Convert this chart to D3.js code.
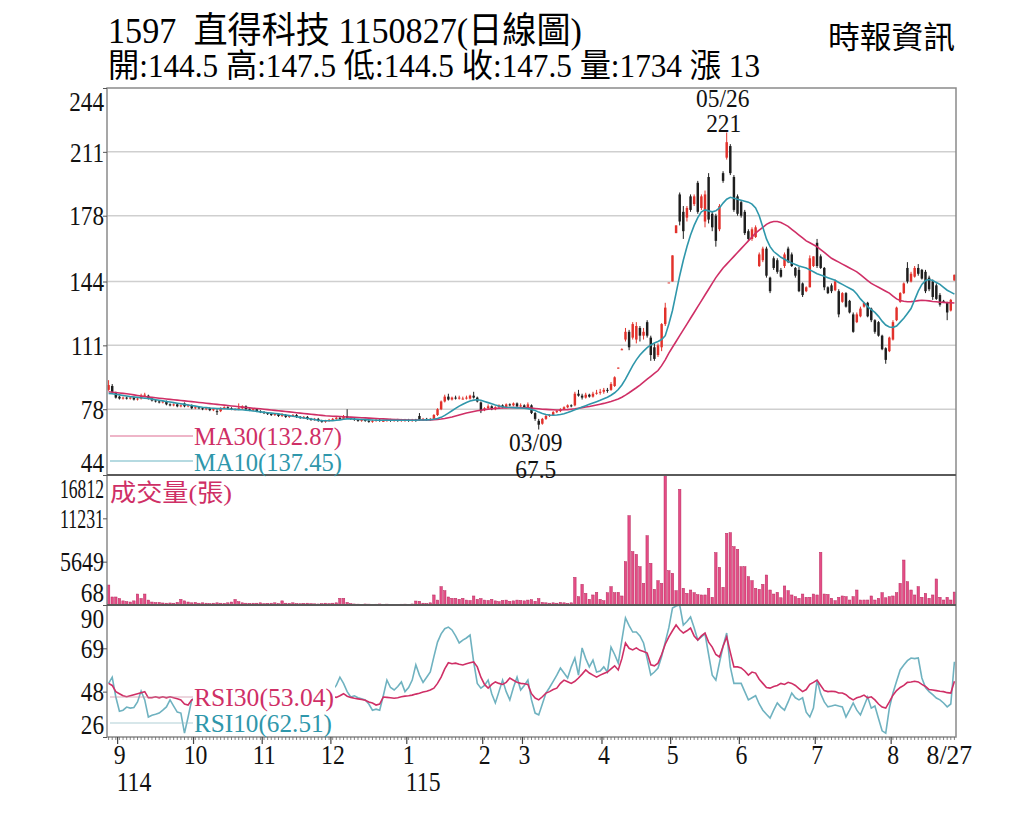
<!DOCTYPE html>
<html>
<head>
<meta charset="utf-8">
<script src="https://cdn.jsdelivr.net/npm/d3@7"></script>
<style>
  body { margin: 0; background: #fff; }
  svg { display: block; }
  text { font-family: "Liberation Serif", "Noto Sans CJK TC", serif; white-space: pre; }
</style>
</head>
<body>
<svg id="chart" width="1024" height="819"></svg>
<script>
// Trading days per month, 114/08 (partial) .. 115/08/27
const monthLabels = ["", "9", "10", "11", "12", "1", "2", "3", "4", "5", "6", "7", "8"];
const monthDays = [3, 21, 19, 19, 21, 21, 11, 22, 19, 19, 21, 21, 18];
const yearLabels = [{ month: 1, text: "114" }, { month: 5, text: "115" }];
const lastDateLabel = "8/27";

const openP = [
  88, 90, 86.5, 84.5, 83.5, 84, 83.5, 84, 83, 83.5, 85, 85, 83.5, 82.5, 82, 81.5, 82, 80.5, 80, 80.5, 79.5,
  81, 79.5, 80, 78.5, 79, 78.5, 78, 78.5, 77.5, 77, 77, 78.5, 79, 78.5, 78, 78, 78.5, 79.5, 78, 77.5,
  78, 77, 76.5, 76, 75.5, 75, 75.5, 74.5, 75, 74, 74.5, 75, 74, 73.5, 74, 73, 72.5, 73, 72, 71.5,
  72, 72.5, 73, 73.5, 73, 74.5, 73.5, 73, 72.5, 72, 72.5, 72, 71.5, 72, 72.5, 72, 72, 72.5, 72, 72.5, 72,
  72, 72.5, 72, 72.5, 74.5, 72.5, 73, 72.5, 73, 75, 78, 82, 84.5, 83, 84, 84, 83.5, 84, 83.5, 85, 84,
  81.5, 77.5, 78.5, 79.5, 78, 79, 80, 79, 80.5, 80, 81,
  79.5, 80, 79, 80, 76, 72, 70.5, 73, 74.5, 75, 76.5, 77, 78, 79, 80, 80, 86, 85, 84, 85.5, 84.5, 86,
  86.5, 87, 88, 88, 90, 99, 109, 114, 118, 115, 114, 120, 116, 123, 115, 110, 106, 110, 122,
  143.5, 144, 169, 189, 180, 177, 188, 184, 195, 182, 175, 198, 179, 178, 171, 200, 208, 214, 198,
  188, 185, 180, 170, 166, 167, 152, 155, 161, 146, 156, 155, 150, 152, 161, 158, 151, 150, 143, 139, 141,
  152, 164, 157, 151, 141, 142, 139.5, 139, 133.5, 138, 134, 127, 123, 126, 131, 133, 130, 124, 123, 116, 109.5,
  108, 114, 124, 133.5, 138, 151, 144, 146.5, 151, 150, 149, 146, 144, 142, 137, 134, 133, 129, 144.5
];
const highP = [
  93, 91, 87, 85, 84.5, 84.5, 84.5, 84.5, 84, 86, 86.5, 85.5, 84, 83, 82.5, 82.5, 82.5, 81, 81, 81, 80.5,
  81.5, 80.5, 80.5, 79.5, 79.5, 79, 79, 79, 78.5, 78, 79, 79.5, 79.5, 79, 78.5, 81, 80, 80, 78.5, 78.5,
  78.5, 77.5, 77, 76.5, 76, 76, 76, 76, 75.5, 75, 75.5, 75.5, 74.5, 74.5, 74.5, 73.5, 73.5, 73.5, 72.5, 72.5,
  73, 73.5, 74, 74, 75, 78, 74, 73.5, 73, 73, 73, 72.5, 72.5, 73, 73, 72.5, 73, 73, 73, 73, 73,
  73, 73, 73, 73, 76, 73.5, 73.5, 73.5, 75.5, 78.5, 82.5, 85.5, 86, 84.5, 85, 85, 84.5, 85, 85.5, 87, 84.5,
  82, 79, 80.5, 80, 79.5, 80.5, 80.5, 81, 81, 81.5, 81.5,
  81, 80.5, 81.5, 80.5, 76.5, 73, 73.5, 75, 75.5, 77, 77.5, 78.5, 79.5, 80.5, 80.5, 87, 88, 86, 86.5, 86, 87, 88,
  88.5, 89, 89, 92, 95, 99.5, 109.5, 120, 119, 123, 123, 121, 120, 124, 116, 112, 112, 122.5, 133,
  143.5, 157.5, 173, 190, 183, 183, 189, 189, 196, 189, 191, 200, 180, 179, 184, 201, 221, 215, 199,
  189, 186, 181, 171, 172, 173, 159, 162, 162, 146.5, 157, 156, 151, 159, 162, 159, 151.5, 151.5, 143.5, 141.5, 157.5,
  157, 166, 158, 151.5, 141.5, 143, 145, 140, 138.5, 138.5, 134.5, 128, 128, 131, 133.5, 133.5, 130.5, 124.5, 123.5, 116.5, 110,
  115.5, 124, 131, 138.5, 143.5, 154, 149, 152, 153, 150.5, 150, 147, 145, 143, 138, 134.5, 133.5, 135, 147.5
];
const lowP = [
  87.5, 86.5, 83.5, 83, 83, 83, 83, 82.5, 82.5, 83, 84.5, 83, 82, 81.5, 81, 81, 80, 79.5, 79.5, 79, 79,
  79, 79, 78, 78, 78, 77.5, 77.5, 77, 77, 75, 76.5, 78, 78, 77.5, 77.5, 77.5, 78, 77.5, 77, 77,
  76.5, 76, 75.5, 75, 74.5, 74.5, 74, 74, 73.5, 73.5, 74, 73.5, 73, 73, 72.5, 72, 72, 71.5, 71, 71,
  71.5, 72, 72.5, 72.5, 72.5, 73, 72.5, 72, 71.5, 71.5, 71.5, 71, 71, 71.5, 71.5, 71.5, 71.5, 71.5, 71.5, 71.5, 71.5,
  71.5, 71.5, 71.5, 71.5, 72, 72, 72, 72, 72.5, 74.5, 77.5, 81.5, 82.5, 82.5, 83, 83, 83, 83, 83, 83.5, 81.5,
  76, 77, 78, 77.5, 77.5, 78.5, 78.5, 78.5, 79.5, 79.5, 79,
  79, 78.5, 78.5, 75.5, 72, 67.5, 70, 72.5, 74, 74.5, 76, 76.5, 77.5, 78.5, 79, 79.5, 84.5, 83, 83.5, 84, 84, 85.5,
  85.5, 86, 86.5, 87.5, 89.5, 99, 108.5, 113, 108.5, 114, 112, 113, 114, 115, 103, 103, 105, 108, 121,
  143.5, 144, 169, 173, 166, 175, 180, 183, 179, 181, 172, 174, 170, 162, 170, 195, 207, 199, 180,
  178, 177, 168, 165, 165, 166.5, 151.5, 154, 146, 138, 150, 148, 146, 151, 153.5, 151.5, 146, 138.5, 136, 138.5, 141,
  151.5, 151, 150.5, 139.5, 137.5, 138, 139, 125.5, 133, 130.5, 127.5, 117.5, 122.5, 125.5, 130.5, 125.5, 123, 117, 115.5, 108.5, 101.5,
  107.5, 113.5, 123.5, 133, 137.5, 143, 143.5, 146, 147, 145, 138, 139, 134.5, 134.5, 131, 133, 124, 128.5, 144.5
];
const closeP = [
  90.5, 87, 84, 83.5, 84, 83.5, 84, 83, 83.5, 85, 85.5, 83.5, 82.5, 82, 81.5, 82, 80.5, 80, 80.5, 79.5, 80,
  79.5, 80, 78.5, 79, 78.5, 78, 78.5, 77.5, 78, 76.5, 78.5, 79, 78.5, 78, 78, 78.5, 79.5, 78, 77.5, 78,
  77, 76.5, 76, 75.5, 75, 75.5, 74.5, 75, 74, 74.5, 75, 74, 73.5, 74, 73, 72.5, 73, 72, 71.5, 72,
  72.5, 73, 73.5, 73, 74.5, 73.5, 73, 72.5, 72, 72.5, 72, 71.5, 72, 72.5, 72, 72, 72.5, 72, 72.5, 72, 72.5,
  72.5, 72, 72.5, 72, 72.5, 73, 72.5, 73, 75, 78, 82, 84.5, 83, 84, 83.5, 84, 83.5, 84, 85, 84, 82,
  77, 78.5, 79.5, 78, 79, 80, 79, 80.5, 80, 81, 79.5,
  80, 79, 80.5, 76, 73, 70, 73, 74.5, 75, 76.5, 77, 78, 79, 80, 79.5, 86, 85, 84, 85.5, 84.5, 86, 86.5,
  87, 88, 87.5, 91, 94.5, 99.5, 109, 118, 110, 122, 121, 116, 118, 116, 106, 104, 111, 122, 130.5,
  143.5, 157.5, 173, 175, 170, 182, 181, 188, 180, 188, 189, 176, 172, 165, 183, 196, 216, 200, 181,
  179, 178, 169, 166, 171, 172, 158, 161, 147, 139, 151, 149, 146.5, 158, 154, 152, 147, 139, 137, 141, 156,
  157, 152, 151, 141, 138, 139, 144, 127, 138, 131, 128, 118, 127, 130, 133, 126, 124, 118, 116, 109, 103.5,
  115, 123, 130.5, 138, 143, 144, 148, 151, 148, 145.5, 139, 140, 136, 135, 132, 133.5, 128, 134.5, 147.5
];
const volume = [
  2640, 1100, 1100, 900, 600, 500, 450, 600, 1480, 900, 1480, 700, 450, 380, 400, 330, 300, 330, 300, 400, 800,
  600, 450, 350, 400, 300, 350, 300, 250, 300, 350, 300, 280, 350, 450, 780, 500, 350, 300, 280, 300,
  300, 350, 250, 280, 300, 350, 250, 600, 300, 280, 350, 250, 230, 280, 300, 250, 220, 200, 250, 300,
  250, 300, 350, 930, 930, 400, 250, 200, 180, 150, 200, 180, 150, 170, 200, 150, 180, 150, 160, 150, 170,
  180, 150, 200, 580, 550, 300, 250, 350, 1360, 700, 2430, 1910, 1100, 930, 930, 800, 930, 700, 650, 1230, 800,
  900, 700, 650, 800, 600, 500, 650, 700, 550, 600, 700,
  650, 600, 700, 750, 550, 900, 400, 350, 300, 350, 300, 400, 350, 280, 350, 3630, 1140, 2730, 1570, 800, 1360, 1700,
  800, 620, 1650, 2430, 1650, 1700, 1230, 5650, 11570, 6940, 6590, 5000, 2860, 8990, 5440, 2090, 3200, 2860, 16812,
  4490, 4150, 1910, 14970, 2220, 1570, 2000, 1650, 1400, 1360, 1360, 2220, 1060, 6810, 4920, 2350, 9300, 9380, 7580,
  7240, 5000, 5000, 3720, 3200, 2220, 2090, 2730, 3930, 2000, 1480, 1700, 1000, 2520, 1910, 1360, 1140, 930, 1480, 1060, 1060,
  1480, 1360, 6850, 1480, 1430, 930, 620, 1060, 1230, 1140, 710, 1140, 2000, 710, 710, 710, 1230, 710, 930, 1650, 1000,
  1140, 1230, 1650, 2860, 5860, 3070, 2000, 1360, 2430, 1060, 1570, 930, 1360, 3420, 1060, 710, 1060, 710, 1734
];
const ma10 = [
  86.2, 86.0, 85.7, 85.4, 85.1, 84.8, 84.5, 84.3, 84.1, 83.9, 83.7, 83.5, 83.2, 82.9, 82.6, 82.3, 82.0, 81.7, 81.4, 81.1, 80.8,
  80.5, 80.2, 79.9, 79.6, 79.3, 79.0, 78.8, 78.6, 78.5, 78.4, 78.3, 78.2, 78.1, 78.0, 77.9, 77.8, 77.7, 77.5, 77.3, 77.1,
  76.9, 76.6, 76.4, 76.2, 76.0, 75.8, 75.6, 75.3, 75.0, 74.7, 74.4, 74.1, 73.8, 73.5, 73.2, 72.9, 72.6, 72.3, 72.1, 72.0,
  72.0, 72.1, 72.3, 72.5, 72.8, 73.0, 73.0, 72.9, 72.8, 72.7, 72.6, 72.5, 72.4, 72.3, 72.3, 72.3, 72.3, 72.3, 72.3, 72.3, 72.3,
  72.3, 72.3, 72.3, 72.3, 72.4, 72.4, 72.5, 72.6, 72.8, 73.2, 73.8, 74.8, 76.0, 77.2, 78.4, 79.6, 80.6, 81.5, 82.2, 82.7, 82.9,
  82.6, 82.0, 81.4, 80.8, 80.2, 79.7, 79.3, 79.0, 78.9, 78.8, 78.7,
  78.6, 78.5, 78.3, 77.9, 77.3, 76.5, 75.8, 75.3, 75.0, 74.9, 75.0, 75.3, 75.7, 76.3, 77.0, 77.7, 78.4, 79.1, 79.8, 80.5, 81.2, 81.9,
  82.6, 83.4, 84.2, 85.2, 86.5, 88.2, 90.5, 93.5, 97.0, 100.5, 103.5, 106.0, 108.0, 109.8, 111.2, 112.2, 113.0, 114.0, 116.0,
  122, 129, 138, 147, 155, 162, 168, 173, 177, 180, 181, 180.5, 180, 180.5, 182, 184.5, 186.5, 187.5, 187,
  186.5, 186.0, 185.5, 185.0, 184.0, 182.0, 178.0, 172.0, 166.0, 162.0, 159.5, 158.0, 156.5, 155.5, 154.5, 153.5, 152.8, 152.0, 151.5, 151.0, 150.0,
  149.0, 148.0, 147.3, 146.7, 146.0, 145.3, 144.6, 143.5, 142.5, 141.5, 140.5, 139.5, 137.5, 135.0, 133.0, 131.0, 129.5, 128.0, 126.0, 123.5, 121.5,
  120.5, 120.3, 121.0, 123.0, 125.0, 127.5, 130.0, 134.5, 139.0, 142.5, 144.5, 145.0, 144.5, 143.5, 142.5, 141.0, 139.5, 138.5, 137.45
];
const ma30 = [
  87.0, 86.8, 86.6, 86.4, 86.2, 86.0, 85.7, 85.4, 85.1, 84.8, 84.5, 84.3, 84.1, 83.9, 83.7, 83.5, 83.3, 83.1, 82.9, 82.7, 82.5,
  82.3, 82.1, 81.9, 81.7, 81.5, 81.3, 81.1, 80.9, 80.7, 80.5, 80.3, 80.1, 79.9, 79.7, 79.5, 79.3, 79.1, 78.9, 78.7, 78.5,
  78.4, 78.2, 78.0, 77.8, 77.6, 77.4, 77.2, 77.0, 76.8, 76.6, 76.4, 76.2, 76.0, 75.8, 75.6, 75.4, 75.2, 75.0, 74.8, 74.6,
  74.5, 74.4, 74.3, 74.2, 74.1, 74.0, 73.9, 73.8, 73.7, 73.6, 73.5, 73.4, 73.3, 73.2, 73.1, 73.0, 72.9, 72.8, 72.7, 72.6, 72.5,
  72.5, 72.4, 72.4, 72.4, 72.4, 72.4, 72.4, 72.5, 72.6, 72.7, 72.9, 73.2, 73.6, 74.0, 74.5, 75.0, 75.5, 76.0, 76.4, 76.8, 77.2,
  77.5, 77.8, 78.0, 78.2, 78.4, 78.5, 78.6, 78.7, 78.8, 78.8, 78.8,
  78.8, 78.7, 78.7, 78.6, 78.4, 78.2, 78.0, 77.9, 77.8, 77.7, 77.6, 77.6, 77.7, 77.8, 78.0, 78.2, 78.5, 78.8, 79.1, 79.4, 79.8, 80.2,
  80.6, 81.0, 81.5, 82.0, 82.6, 83.3, 84.2, 85.3, 86.5, 87.8, 89.1, 90.5, 92.0, 93.5, 95.0, 96.5, 98.0, 100.5, 103.5,
  107, 110, 113, 116, 119, 122, 125, 128, 131, 134, 137, 140, 143, 146, 148.5, 151, 153, 155, 157,
  159, 161, 163, 165, 167, 169, 170.5, 172, 173.5, 174.5, 175, 175, 174.5, 173.5, 172.5, 171, 169.5, 168, 166.5, 165, 164,
  163, 162, 160.5, 159, 157.5, 156, 155, 154, 153, 152, 151, 150, 149, 147.5, 146, 144.5, 143, 142, 141, 140, 139,
  138, 136.5, 135, 134.2, 133.8, 133.5, 133.6, 133.8, 134.1, 134.3, 134.2, 134, 133.7, 133.5, 133.3, 133.2, 133.1, 133, 132.87
];
const rsi10 = [
  52, 55, 45.4, 38.5, 39, 40.5, 40, 40.3, 43, 48.3, 44, 35.7, 36.5, 37, 37.6, 39, 40.6, 44, 41, 38.1, 37.6,
  27.9, 35.7, 44, 45, 43, 46, 44, 47, 45, 43, 45, 48, 46, 44, 47, 49, 46, 44, 42, 44,
  42, 40, 43, 41, 44, 46, 43, 45, 42, 44, 46, 43, 41, 44, 42, 40, 43, 41, 44, 46,
  48, 49, 51, 55, 52, 48, 45.4, 46, 45, 44.5, 44, 42, 39, 39.5, 39, 46, 53.6, 50, 48.8, 50.5, 52.7,
  48, 50, 53.6, 61, 56, 52.5, 55, 57.5, 65, 72, 76, 78.5, 79.3, 77.9, 75, 71.6, 73, 74, 75.4, 62.4, 52,
  49.7, 51, 53.6, 47, 42.5, 48, 53.6, 48, 44, 50, 55,
  48.8, 51, 53.6, 44, 37.6, 36.7, 42, 47.3, 50, 53, 56, 59.4, 57, 54.6, 60, 64.3, 56, 69.2, 64, 60, 63.3, 57.5,
  58, 60, 57.5, 69.6, 66, 61.8, 73, 83.7, 80, 76.9, 76.9, 75, 71.6, 64, 56, 57.5, 59.4, 65, 72,
  79, 88.5, 89.5, 90, 80.3, 82, 84.2, 79, 73, 74.5, 76, 66, 56, 53.6, 62, 70, 76.4, 60, 52,
  52, 52, 48, 44, 45, 46, 42, 39, 37, 35.2, 39, 42.5, 40.5, 39, 43, 47.3, 45, 44, 45, 38, 35.7,
  40, 53.6, 47, 43, 40.6, 41, 41.5, 41, 40.6, 35.7, 39, 42.5, 39, 36.7, 41, 45.4, 40, 41, 35, 29, 27.9,
  40, 47.3, 53, 58.5, 60.9, 63, 64.3, 64, 64.3, 54.6, 50, 48, 46.5, 44.9, 44, 42.5, 40.6, 42, 62.51
];
const rsi30 = [
  52, 51, 48, 47, 46, 45.5, 46, 46.5, 47, 47.5, 48, 45, 45, 45.5, 45, 45.5, 45, 45.5, 45, 44.5, 44,
  42, 41.5, 44, 44.5, 44, 45, 44.5, 45, 44.5, 45, 45.5, 45, 44.5, 45, 46.5, 45.5, 45, 44.5, 44, 44.5,
  44, 43.5, 44, 43.5, 44, 44.5, 44, 45, 44.5, 45, 44.5, 44, 44.5, 44, 44.5, 45, 44.5, 44, 44.5, 45,
  45.5, 45.5, 45.2, 46, 47, 45.8, 45.2, 44.8, 44.5, 44.2, 43.8, 43, 42.5, 41.5, 42, 45.4, 45.2, 45, 44.8, 45, 45.5,
  45.8, 46, 46.3, 46.8, 47.2, 47.8, 48.2, 48.8, 49.7, 52, 55, 59, 62, 61.5, 61.8, 61.3, 60.9, 61.5, 62, 62.4, 60,
  55, 51.5, 49.7, 51.5, 52.7, 52, 51.5, 52.5, 54.6, 53.5, 52.5,
  52, 51.8, 51.5, 47, 44.9, 44, 45.5, 47.3, 48, 49, 49.7, 52, 53.6, 52.8, 52, 53, 54.6, 56.5, 58.5, 57, 56, 55,
  56, 56.8, 57.5, 59, 60.5, 58.5, 64, 71.6, 69, 68.2, 69.2, 68, 67.5, 66.7, 61, 60.5, 61.8, 66, 71,
  74.5, 77.5, 80.3, 78, 76.4, 77.5, 78.8, 75, 73, 75, 76.4, 72, 69.6, 66, 64.8, 70, 74.5, 67, 60,
  60, 59.5, 58, 56, 57.5, 57, 54, 52, 50, 49.7, 50.5, 51, 52, 51.5, 52.5, 52, 51, 49.5, 48, 49, 51.5,
  52.5, 53.6, 51, 48.5, 48, 48.2, 48, 47.3, 47.3, 46.5, 45, 44, 45, 45.5, 46.3, 45, 45.5, 44, 42, 40.5, 40,
  43, 46.3, 48.5, 50, 51, 52.5, 52.7, 53, 52.7, 51.5, 50.5, 49, 48.8, 48.5, 48.2, 48, 47.5, 47.3, 53.04
];

const priceTicks = [44, 78, 111, 144, 178, 211, 244];
const volumeTicks = [68, 5649, 11231, 16812];
const rsiTicks = [26, 48, 69, 90];
const peakLabel = "05/26";
const troughLabel = "03/09";

// ---- layout
const left = 107, right = 956;
const pTop = 88, pBot = 475, vBot = 605, rBot = 737;
const red = "#e2312b", black = "#1e1e1e";
const c30 = "#cf2f66", c10 = "#2f97ab", cR10 = "#6fb2c0";

const svg = d3.select("#chart");
const N = closeP.length;

const x = d3.scaleBand().domain(d3.range(N)).range([left, right]).paddingInner(0.32).paddingOuter(0.1);
const cx = i => x(i) + x.bandwidth() / 2;
const bandLeft = i => x(i) - x.step() * x.paddingInner() / 2;

const yP = d3.scaleLinear().domain([44, 244]).range([pBot, pTop]);
const yV = d3.scaleLinear().domain([68, 16812]).range([vBot, pBot]);
const yR = d3.scaleLinear().domain([26, 90]).range([rBot, vBot]);

function squeeze(sel, factor, maxW) {
  sel.each(function () {
    let w = this.getComputedTextLength() * factor;
    if (maxW && w > maxW) w = maxW;
    d3.select(this).attr("textLength", w).attr("lengthAdjust", "spacingAndGlyphs");
  });
  return sel;
}

// clip regions
const defs = svg.append("defs");
[["clipP", pTop, pBot], ["clipV", pBot, vBot], ["clipR", vBot, rBot]].forEach(([id, t, b]) => {
  defs.append("clipPath").attr("id", id).append("rect")
    .attr("x", left).attr("y", t).attr("width", right - left).attr("height", b - t);
});

// ---- header
svg.append("text").attr("x", 108).attr("y", 43).style("font-size", "36px")
  .text("1597  直得科技 1150827(日線圖)")
  .attr("textLength", 474).attr("lengthAdjust", "spacingAndGlyphs");
svg.append("text").attr("x", 108).attr("y", 77).style("font-size", "33px")
  .text("開:144.5 高:147.5 低:144.5 收:147.5 量:1734 漲 13")
  .attr("textLength", 652).attr("lengthAdjust", "spacingAndGlyphs");
svg.append("text").attr("x", 828).attr("y", 48).style("font-size", "31px")
  .style("font-family", "'Noto Sans CJK TC', sans-serif")
  .text("時報資訊")
  .attr("textLength", 127).attr("lengthAdjust", "spacingAndGlyphs");

// ---- price gridlines
svg.append("g").selectAll("line").data(priceTicks.filter(v => v > 44 && v < 244)).join("line")
  .attr("x1", left).attr("x2", right)
  .attr("y1", d => yP(d)).attr("y2", d => yP(d))
  .attr("stroke", "#cfcfcf").attr("stroke-width", 1.5);

// ---- candles
const idx = d3.range(N);
const candles = svg.append("g").attr("clip-path", "url(#clipP)");
candles.selectAll("line").data(idx).join("line")
  .attr("x1", cx).attr("x2", cx)
  .attr("y1", i => yP(highP[i])).attr("y2", i => yP(lowP[i]))
  .attr("stroke", i => closeP[i] >= openP[i] ? red : black).attr("stroke-width", 1);
candles.selectAll("rect").data(idx).join("rect")
  .attr("x", i => x(i)).attr("width", x.bandwidth())
  .attr("y", i => yP(Math.max(openP[i], closeP[i])))
  .attr("height", i => Math.max(1, Math.abs(yP(openP[i]) - yP(closeP[i]))))
  .attr("fill", i => closeP[i] >= openP[i] ? red : black);

// ---- moving averages
const lineOf = (arr, y) => d3.line().x((d, i) => cx(i)).y(d => y(d))(arr);
const maG = svg.append("g").attr("clip-path", "url(#clipP)").attr("fill", "none").attr("stroke-width", 1.6);
maG.append("path").attr("d", lineOf(ma30, yP)).attr("stroke", c30);
maG.append("path").attr("d", lineOf(ma10, yP)).attr("stroke", c10);

// ---- volume bars
svg.append("g").attr("clip-path", "url(#clipV)").selectAll("rect").data(idx).join("rect")
  .attr("x", i => x(i)).attr("width", x.bandwidth())
  .attr("y", i => yV(volume[i])).attr("height", i => vBot - yV(volume[i]))
  .attr("fill", "#e44d86").attr("stroke", "#b82a5e").attr("stroke-width", 0.5);

// ---- RSI
const rsiG = svg.append("g").attr("clip-path", "url(#clipR)").attr("fill", "none").attr("stroke-width", 1.6);
rsiG.append("path").attr("d", lineOf(rsi10, yR)).attr("stroke", cR10);
rsiG.append("path").attr("d", lineOf(rsi30, yR)).attr("stroke", c30);

// white box behind the RSI legend (lines are hidden there in the original)
svg.append("rect").attr("x", 193).attr("y", 684).attr("width", 142).attr("height", rBot - 684 - 1)
  .attr("fill", "#fff");

// ---- legend sample lines
const legendLine = (y, color) => svg.append("line").attr("x1", 110).attr("x2", 193)
  .attr("y1", y).attr("y2", y).attr("stroke", color).attr("stroke-width", 1.2).attr("opacity", 0.7);
legendLine(436, c30);
legendLine(461, c10);
legendLine(697, "#c98aa0");
legendLine(723, "#8fbcc6");

// ---- frame and panel separators
svg.append("rect").attr("x", left).attr("y", pTop).attr("width", right - left).attr("height", rBot - pTop)
  .attr("fill", "none").attr("stroke", "#8a8a8a").attr("stroke-width", 1.5);
[pBot, vBot].forEach(y => svg.append("line").attr("x1", left).attr("x2", right)
  .attr("y1", y).attr("y2", y).attr("stroke", "#5a5a5a").attr("stroke-width", 2));

// ---- left axes (ticks) and labels
function leftAxis(scale, ticks, top, bottom) {
  const g = svg.append("g").attr("transform", `translate(${left},0)`)
    .call(d3.axisLeft(scale).tickValues(ticks).tickSize(4).tickFormat(""));
  g.select(".domain").remove();
  g.selectAll("line").attr("stroke", "#555");
  svg.append("g").selectAll("text").data(ticks).join("text")
    .attr("x", 104).attr("text-anchor", "end")
    .attr("y", d => Math.min(bottom - 13, Math.max(top + 13, scale(d))))
    .attr("dy", "0.36em").style("font-size", "27px").attr("fill", "#111")
    .text(d => d)
    .call(sel => squeeze(sel, 0.86, 44));
}
leftAxis(yP, priceTicks, pTop, pBot);
leftAxis(yV, volumeTicks, pBot, vBot);
leftAxis(yR, rsiTicks, vBot, rBot);

// ---- bottom axis: a small tick per trading day, longer at month starts
const minor = svg.append("g").attr("transform", `translate(0,${rBot})`)
  .call(d3.axisBottom(x).tickValues(idx).tickSize(3).tickFormat(""));
minor.select(".domain").remove();
minor.selectAll("line").attr("stroke", "#666").attr("stroke-width", 0.8);

const monthStart = [];
monthDays.reduce((acc, n) => { monthStart.push(acc); return acc + n; }, 0);
const months = monthLabels.map((t, k) => ({ text: t, pos: bandLeft(monthStart[k]) })).filter(d => d.text);

svg.append("g").selectAll("line").data(months).join("line")
  .attr("x1", d => d.pos).attr("x2", d => d.pos)
  .attr("y1", rBot).attr("y2", rBot + 7).attr("stroke", "#444").attr("stroke-width", 1.2);

svg.append("g").selectAll("text").data(months).join("text")
  .attr("x", d => d.pos + 2).attr("y", 764).attr("text-anchor", "middle")
  .style("font-size", "27px").attr("fill", "#111").text(d => d.text)
  .call(sel => squeeze(sel, 0.88));
svg.append("text").attr("x", cx(N - 1) - 5).attr("y", 764).attr("text-anchor", "middle")
  .style("font-size", "27px").attr("fill", "#111").text(lastDateLabel)
  .call(sel => squeeze(sel, 0.95));
svg.append("g").selectAll("text").data(yearLabels).join("text")
  .attr("x", d => bandLeft(monthStart[d.month]) - 1).attr("y", 791)
  .style("font-size", "27px").attr("fill", "#111").text(d => d.text)
  .call(sel => squeeze(sel, 0.88));

// ---- high / low annotations
const iMax = d3.maxIndex(highP), iMin = d3.minIndex(lowP);
const note = (xx, yy, t) => svg.append("text").attr("x", xx).attr("y", yy).attr("text-anchor", "middle")
  .style("font-size", "26px").attr("fill", "#111").text(t).call(sel => squeeze(sel, 0.9));
note(cx(iMax) - 4, yP(highP[iMax]) - 26, peakLabel);
note(cx(iMax) - 3, yP(highP[iMax]) - 1, d3.format(".3~f")(highP[iMax]));
note(cx(iMin) - 3, yP(lowP[iMin]) + 21, troughLabel);
note(cx(iMin) - 3, yP(lowP[iMin]) + 48, d3.format(".3~f")(lowP[iMin]));

// ---- legend texts
const legendText = (xx, yy, t, color, w, size) => svg.append("text").attr("x", xx).attr("y", yy)
  .style("font-size", size || "26px").attr("fill", color).text(t)
  .attr("textLength", w).attr("lengthAdjust", "spacingAndGlyphs");
legendText(194, 445, `MA30(${ma30[N - 1].toFixed(2)})`, c30, 148);
legendText(194, 471, `MA10(${ma10[N - 1].toFixed(2)})`, c10, 148);
legendText(194, 706, `RSI30(${rsi30[N - 1].toFixed(2)})`, c30, 140);
legendText(194, 732, `RSI10(${rsi10[N - 1].toFixed(2)})`, c10, 138);
legendText(110, 501, "成交量(張)", c30, 122, "24px");
</script>
</body>
</html>
